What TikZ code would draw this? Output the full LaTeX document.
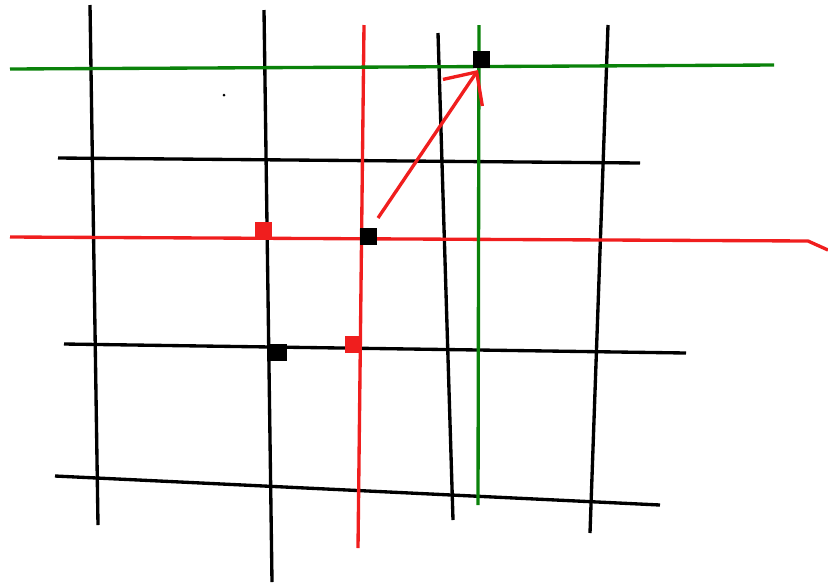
\documentclass[tikz,border=0pt]{standalone}
\usetikzlibrary{arrows.meta}
\definecolor{gridred}{RGB}{240,30,30}
\definecolor{gridgreen}{RGB}{10,130,10}
\begin{document}
\begin{tikzpicture}[x=0.02cm, y=-0.02cm,
      gline/.style={line width=1.9pt, black},
      rline/.style={gline, gridred},
      vline/.style={gline, gridgreen},
      sq/.style={draw=none, inner sep=0pt, minimum size=0.34cm, fill=black},
      rsq/.style={sq, fill=gridred}]
    \useasboundingbox (0,0) rectangle (828,586);
    % black grid
    \draw[gline] (90,5) -- (98,525);
    \draw[gline] (264,10) -- (272,582);
    \draw[gline] (438,33) -- (453,520);
    \draw[gline] (608,25) -- (590,533);
    \draw[gline] (58,158) -- (640,163);
    \draw[gline] (64,344) -- (686,353);
    \draw[gline] (55,476) -- (660,505);
    % red and green lines
    \draw[rline] (10,237) -- (808,241) -- (828,250);
    \draw[rline] (364,25) -- (358,548);
    \draw[vline] (10,69) -- (774,65);
    \draw[vline] (479,25) -- (478,505);
    % marked points
    \node[sq]  (top) at (481,59)  {};
    \node[rsq] (ra)  at (263,230) {};
    \node[sq]  (mid) at (368,236) {};
    \node[rsq] (rb)  at (353,344) {};
    \node[sq]  (low) at (278,352) {};
    \fill (224,95) circle (1.5);
    \draw[rline, -{Straight Barb[length=0.5cm, width=0.95cm]}]
      ([shift={(10,-18)}]mid.center) -- ([shift={(-3,11)}]top.center);
  \end{tikzpicture}
\end{document}
